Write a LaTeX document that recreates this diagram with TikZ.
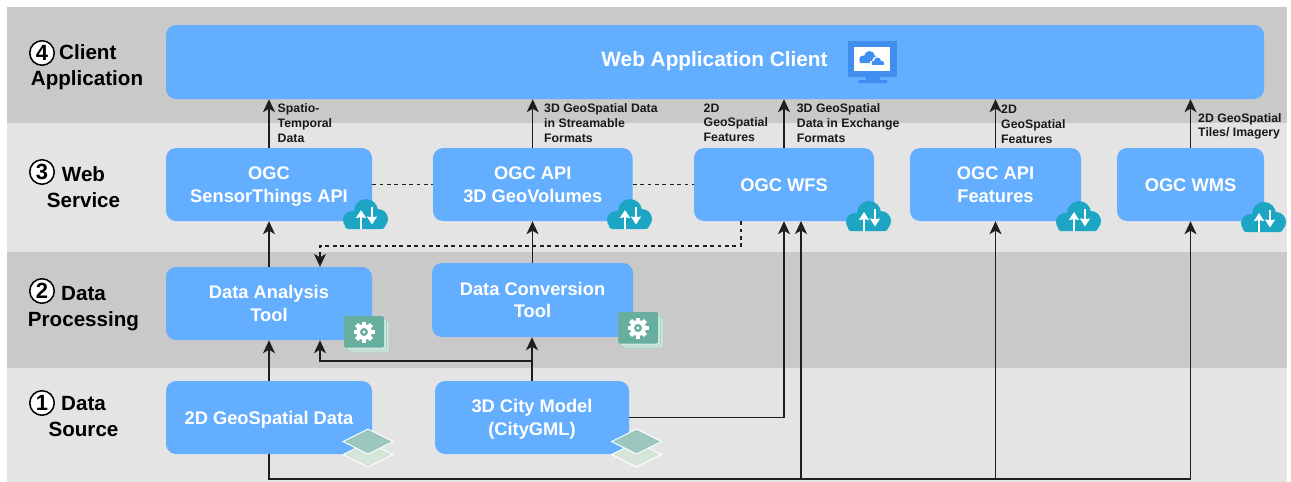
\documentclass[tikz,border=0pt]{standalone}
\usepackage{fontspec}
\setmainfont{Liberation Sans}
\usetikzlibrary{arrows.meta,calc}
\definecolor{banddark}{HTML}{C9C9C9}
\definecolor{bandlight}{HTML}{E4E4E4}
\definecolor{boxblue}{HTML}{64AEFF}
\definecolor{cloudteal}{HTML}{1CA6C4}
\definecolor{gearteal}{HTML}{67AE9E}
\definecolor{gearback}{HTML}{D3E8E0}
\definecolor{layertop}{HTML}{9CC7BF}
\definecolor{layerlow}{HTML}{D5E6D8}
\definecolor{monitorblue}{HTML}{3F8EF0}
\definecolor{linedark}{HTML}{1E1E1E}
\tikzset{
  boxnode/.style={fill=boxblue,rounded corners=10pt,inner sep=0pt},
  boxtext/.style={inner sep=0pt,text=white,align=center,font=\bfseries\fontsize{18.3}{22.5}\selectfont},
  small/.style={inner sep=0pt,anchor=north west,align=left,text=black!90,
    font=\bfseries\fontsize{12.3}{14.7}\selectfont},
  rowlabel/.style={inner sep=0pt,anchor=base,text=black,font=\bfseries\fontsize{20.6}{24}\selectfont},
  numcircle/.style={circle,draw=black,line width=1.5pt,fill=white,minimum size=24.5pt,inner sep=0pt,
    text=black,font=\bfseries\fontsize{22}{24}\selectfont},
  flow/.style={draw=linedark,line width=1.4pt,-{Stealth[length=13pt,width=12pt,inset=3.5pt]}},
  plainline/.style={draw=linedark,line width=1.4pt},
  dashline/.style={draw=linedark,line width=1.2pt,dash pattern=on 3.8pt off 3.6pt},
  cloudicon/.pic={
    \fill[cloudteal] (-13,6) circle (9);
    \fill[cloudteal] (1,-3) circle (12);
    \fill[cloudteal] (13,5) circle (10);
    \fill[cloudteal,rounded corners=3pt] (-20,3) rectangle (20,15);
    \draw[white,line width=1.8pt,-{Stealth[length=8pt,width=10pt,inset=1pt]}] (-4,14.5) -- (-4,-4);
    \draw[white,line width=1.8pt,-{Stealth[length=8pt,width=10pt,inset=1pt]}] (7,-7) -- (7,10.5);
  },
  gearicon/.pic={
    \draw[gearteal!60,fill=gearback,line width=.7pt,rounded corners=1.5pt] (-15,-11) rectangle (25,20);
    \draw[gearteal!60,fill=gearback,line width=.7pt,rounded corners=1.5pt] (-17.5,-13.5) rectangle (22.5,18);
    \fill[gearteal,rounded corners=1.5pt] (-20,-16) rectangle (20,15.5);
    \foreach \a in {0,45,...,315}{
      \fill[white,rotate=\a] (-2.2,-10.5) rectangle (2.2,-6);
    }
    \fill[white] (0,0) circle (8);
    \fill[gearteal] (0,0) circle (4);
    \fill[white] (0,0) circle (1.6);
  },
  layericon/.pic={
    \draw[white,fill=layerlow,line width=.9pt] (-25,13) -- (0,0.5) -- (25,13) -- (0,25.5) -- cycle;
    \draw[white,fill=layertop,line width=.9pt] (-25,0) -- (0,-12.5) -- (25,0) -- (0,12.5) -- cycle;
  }
}
\newcommand{\boxat}[6]{% name, x, y, w, h, text
  \node[boxnode,minimum width=#4pt,minimum height=#5pt] (#1) at (#2,#3) {};
  \node[boxtext] (#1text) at (#2,#3+2) {#6};
}
\begin{document}
\begin{tikzpicture}[x=1pt,y=-1pt]
\useasboundingbox (0,0) rectangle (1291,482);
% bands
\fill[banddark] (7,7) rectangle (1287,123);
\fill[bandlight] (7,123) rectangle (1287,252);
\fill[banddark] (7,252) rectangle (1287,368);
\fill[bandlight] (7,368) rectangle (1287,482);
% boxes
\node[boxnode,minimum width=1098pt,minimum height=74pt] (client) at (715,62) {};
\node[boxtext,font=\bfseries\fontsize{20.8}{25}\selectfont] (clienttext) at (714.5,61.5) {Web Application Client};
\boxat{sensor}{269}{184.5}{206}{73}{\strut OGC\\\strut SensorThings API}
\boxat{geovol}{532.75}{184.5}{199.5}{73}{\strut OGC API\\\strut 3D GeoVolumes}
\boxat{wfs}{784}{184.5}{180}{73}{\strut OGC WFS}
\boxat{features}{995.5}{184.5}{171}{73}{\strut OGC API\\\strut Features}
\boxat{wms}{1190.5}{184.5}{147}{73}{\strut OGC WMS}
\boxat{analysis}{269}{303.5}{206}{73}{\strut Data Analysis\\\strut Tool}
\boxat{conversion}{532.5}{300}{201}{74}{\strut Data Conversion\\\strut Tool}
\boxat{geodata}{269}{417.5}{206}{73}{\strut 2D GeoSpatial Data}
\boxat{city}{532}{417.5}{194}{73}{\strut 3D City Model\\\strut (CityGML)}
% connector helpers
\coordinate (busend) at (1190.5,479);
\coordinate (dashleft) at (320,246);
\coordinate (dashright) at (741,246);
\coordinate (joint) at (532,361);
\coordinate (jointleft) at (320,361);
\coordinate (wfsin) at (801,221);
% solid connectors
\draw[flow] (sensor.north) -- (sensor.north |- client.south);
\draw[flow] (geovol.north) -- (geovol.north |- client.south);
\draw[flow] (wfs.north) -- (wfs.north |- client.south);
\draw[flow] (features.north) -- (features.north |- client.south);
\draw[flow] (wms.north) -- (wms.north |- client.south);
\draw[flow] (analysis.north) -- (sensor.south);
\draw[flow] (conversion.north) -- (conversion.north |- geovol.south);
\draw[flow] (geodata.north) -- (analysis.south);
\draw[flow] (city.north) -- (city.north |- conversion.south);
\draw[flow] (joint) -- (jointleft) -- (jointleft |- analysis.south);
\draw[flow] (city.east) -- (city.east -| wfs.south) -- (wfs.south);
\draw[plainline] (geodata.south) -- (geodata.south |- busend) -- (busend);
\draw[flow] (wfsin |- busend) -- (wfsin);
\draw[flow] (features.south |- busend) -- (features.south);
\draw[flow] (busend) -- (wms.south);
% dashed connectors
\draw[dashline] (sensor.east) -- (geovol.west);
\draw[dashline] (geovol.east) -- (wfs.west);
\draw[dashline] (dashright |- wfs.south) -- (dashright) -- (dashleft) -- ($(dashleft |- analysis.north)+(0,-8)$);
\draw[draw=linedark,line width=1.2pt,-{Stealth[length=13pt,width=12pt,inset=3.5pt]}] ($(dashleft |- analysis.north)+(0,-13)$) -- (dashleft |- analysis.north);
% small labels
\node[small] (l1) at (277.5,103.5) {Spatio-\\Temporal\\Data};
\node[small] (l2) at (544,103.5) {3D GeoSpatial Data\\in Streamable\\Formats};
\node[small] (l3) at (703.5,103.5) {2D\\GeoSpatial\\Features};
\node[small] (l4) at (796.7,103.5) {3D GeoSpatial\\Data in Exchange\\Formats};
\node[small] (l5) at (1001,105) {2D\\GeoSpatial\\Features};
\node[small] (l6) at (1198,113) {2D GeoSpatial\\Tiles/ Imagery};
% row labels
\node[numcircle] (n4) at (42,53) {4};
\node[rowlabel,anchor=base west] (t4a) at (59,59.3) {Client};
\node[rowlabel] (t4b) at (87,85) {Application};
\node[numcircle] (n3) at (42,172) {3};
\node[rowlabel] (t3a) at (83.5,181.7) {Web};
\node[rowlabel] (t3b) at (83.5,207) {Service};
\node[numcircle] (n2) at (42,291) {2};
\node[rowlabel] (t2a) at (83.5,300.3) {Data};
\node[rowlabel] (t2b) at (83.5,326) {Processing};
\node[numcircle] (n1) at (42,403) {1};
\node[rowlabel] (t1a) at (83.5,410.7) {Data};
\node[rowlabel] (t1b) at (83.5,436.5) {Source};
% icons
\pic at (365,214) {cloudicon};
\pic at (629,214) {cloudicon};
\pic at (868,216) {cloudicon};
\pic at (1078,216) {cloudicon};
\pic at (1263,217) {cloudicon};
\pic at (364,332) {gearicon};
\pic at (638,328) {gearicon};
\pic at (368,441.5) {layericon};
\pic at (636.5,441.5) {layericon};
% monitor
\fill[monitorblue] (848,41) rectangle (897,77);
\fill[monitorblue] (866,77) rectangle (880,80);
\fill[monitorblue,rounded corners=1pt] (858,80) rectangle (887,83);
\fill[white] (854,47) rectangle (890,71);
\fill[monitorblue] (863,59) circle (3.5);
\fill[monitorblue] (869.5,56.5) circle (5.5);
\fill[monitorblue] (875,59) circle (3.5);
\fill[monitorblue,rounded corners=1pt] (859.5,58) rectangle (878.5,63);
\fill[white] (878,62) circle (6);
\fill[white] (870,60.5) rectangle (888,66);
\fill[monitorblue] (877.5,61) circle (3.5);
\fill[monitorblue] (873.5,63) circle (2);
\fill[monitorblue] (882,63) circle (2);
\fill[monitorblue] (872,62.5) rectangle (884,65);
\end{tikzpicture}
\end{document}
